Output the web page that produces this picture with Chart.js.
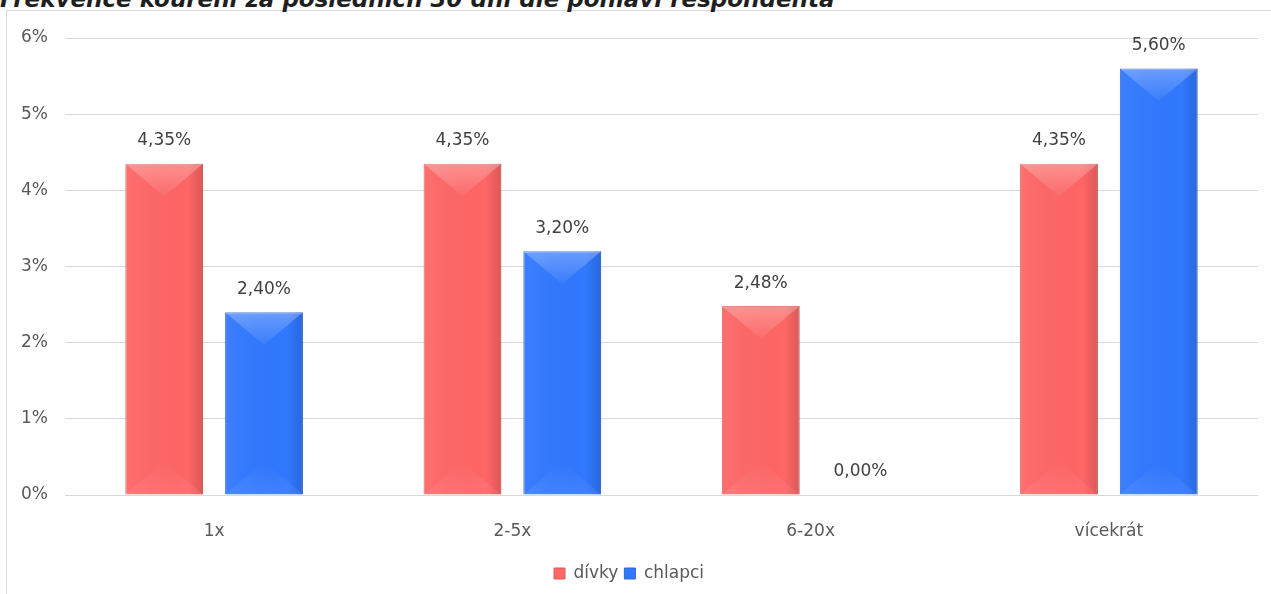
<!DOCTYPE html>
<html>
<head>
<meta charset="utf-8">
<script src="https://cdn.jsdelivr.net/npm/chart.js@4"></script>
<style>
    body { margin: 0; background: #fff; overflow: hidden; }
    #wrap { position: relative; width: 1271px; height: 594px; }
    #frame { position: absolute; left: 6px; top: 10px; right: -2px; bottom: -2px; border-left: 1px solid #d9d9d9; border-top: 1px solid #d9d9d9; }
    #title { position: absolute; left: 0; top: -14px; font: italic bold 23px "DejaVu Sans", sans-serif; color: #1f1f1f; white-space: nowrap; }
    #barCanvas { position: absolute; left: 0; top: 0; }
</style>
</head>
<body>
<div id="wrap">
    <div id="frame"></div>
    <div id="title">Frekvence kouření za posledních 30 dní dle pohlaví respondenta</div>
    <canvas id="barCanvas" width="1271" height="594"></canvas>
</div>
<script>
const categories = ["1x", "2-5x", "6-20x", "vícekrát"];
const divky = [4.35, 4.35, 2.48, 4.35];
const chlapci = [2.40, 3.20, 0.00, 5.60];
const yTicks = [0, 1, 2, 3, 4, 5, 6];

const textFont = "DejaVu Sans";
const textSize = 17;

function czPct(v) {
    return v.toFixed(2).replace(".", ",") + "%";
}

// bevel look + value labels on top of bars
const bevelPlugin = {
    id: "bevel",
    afterDatasetsDraw(chart) {
        const ctx = chart.ctx;
        chart.data.datasets.forEach((ds, i) => {
            const meta = chart.getDatasetMeta(i);
            meta.data.forEach((bar, j) => {
                const w = bar.width;
                const l = bar.x - w / 2, r = bar.x + w / 2;
                const top = bar.y, bot = bar.base;
                const h = bot - top;
                ctx.save();
                if (h > 2) {
                    const d = Math.min(w * 0.42, h / 2);
                    // side shading
                    const g = ctx.createLinearGradient(l, 0, r, 0);
                    g.addColorStop(0, "rgba(255,255,255,0.06)");
                    g.addColorStop(0.8, "rgba(0,0,0,0)");
                    g.addColorStop(1, "rgba(0,0,0,0.14)");
                    ctx.fillStyle = g;
                    ctx.fillRect(l, top, w, h);
                    // top light triangle
                    ctx.beginPath();
                    ctx.moveTo(l, top);
                    ctx.lineTo(r, top);
                    ctx.lineTo(bar.x, top + d);
                    ctx.closePath();
                    const gt = ctx.createLinearGradient(0, top, 0, top + d);
                    gt.addColorStop(0, "rgba(255,255,255,0.28)");
                    gt.addColorStop(1, "rgba(255,255,255,0.04)");
                    ctx.fillStyle = gt;
                    ctx.fill();
                    // bottom triangle
                    ctx.beginPath();
                    ctx.moveTo(l, bot);
                    ctx.lineTo(r, bot);
                    ctx.lineTo(bar.x, bot - d);
                    ctx.closePath();
                    const gb = ctx.createLinearGradient(0, bot - d, 0, bot);
                    gb.addColorStop(0, "rgba(255,255,255,0)");
                    gb.addColorStop(1, "rgba(255,255,255,0.08)");
                    ctx.fillStyle = gb;
                    ctx.fill();
                }
                ctx.fillStyle = "#404040";
                ctx.font = textSize + "px '" + textFont + "'";
                ctx.textAlign = "center";
                ctx.textBaseline = "middle";
                ctx.fillText(czPct(ds.data[j]), bar.x, top - 23);
                ctx.restore();
            });
        });
    }
};

const barCanvas = document.getElementById("barCanvas");

const barChart = new Chart(barCanvas, {
    type: "bar",
    data: {
        labels: categories,
        datasets: [{
            label: "dívky",
            data: divky,
            backgroundColor: "#ff6666",
            borderColor: "#e05a5a",
            borderWidth: 1
        }, {
            label: "chlapci",
            data: chlapci,
            backgroundColor: "#3078ff",
            borderColor: "#2a66d8",
            borderWidth: 1
        }]
    },
    plugins: [bevelPlugin],
    options: {
        responsive: false,
        animation: false,
        categoryPercentage: 0.669,
        barPercentage: 0.78,
        layout: {
            padding: { left: 0, right: 13, top: 38, bottom: 2 }
        },
        plugins: {
            tooltip: { enabled: false },
            legend: {
                position: "bottom",
                labels: {
                    color: "#595959",
                    font: { family: textFont, size: textSize },
                    usePointStyle: true,
                    pointStyle: "rect",
                    boxWidth: 11,
                    boxHeight: 11,
                    padding: 6
                }
            }
        },
        scales: {
            y: {
                min: 0,
                max: 6,
                afterFit(scale) { scale.width = 65; },
                afterBuildTicks(scale) { scale.ticks = yTicks.map(v => ({ value: v })); },
                ticks: {
                    color: "#595959",
                    font: { family: textFont, size: textSize },
                    padding: 17,
                    callback: v => v + "%"
                },
                grid: { color: "#d9d9d9", drawTicks: false },
                border: { display: false }
            },
            x: {
                afterFit(scale) { scale.height = 64; },
                ticks: {
                    color: "#595959",
                    font: { family: textFont, size: textSize },
                    padding: 26
                },
                grid: { display: false, drawTicks: false },
                border: { display: false }
            }
        }
    }
});
</script>
</body>
</html>
